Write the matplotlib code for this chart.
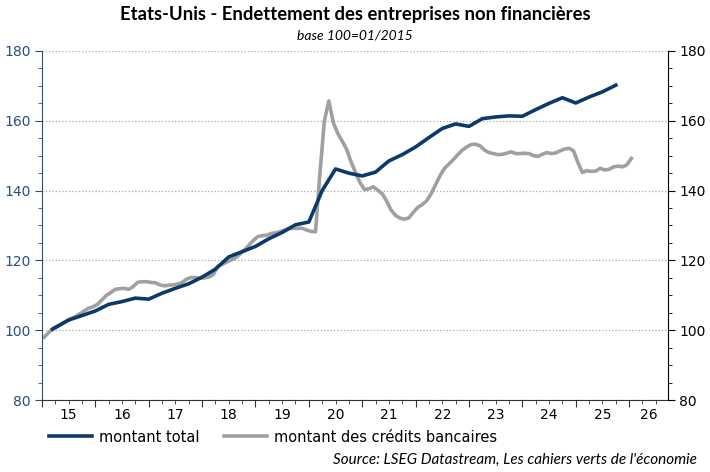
import numpy as np
import matplotlib
matplotlib.use("Agg")
import matplotlib.pyplot as plt
from matplotlib.ticker import MultipleLocator

# quarterly total debt (base 100 = 01/2015), quarter-end points from Q1 2015
total_start = 2015.2
total = [100.3, 102.9, 104.2, 105.5, 107.4, 108.2, 109.2, 108.9, 110.6, 112.0,
         113.3, 115.2, 117.5, 121.0, 122.5, 124.0, 126.2, 128.0, 130.2, 131.0,
         140.0, 146.2, 145.0, 144.2, 145.3, 148.5, 150.3, 152.5, 155.2, 157.8,
         159.1, 158.4, 160.6, 161.1, 161.4, 161.3, 163.2, 165.0, 166.6, 165.1,
         166.8, 168.3, 170.2]

# monthly bank credit, from 01/2015
credit_start = 2015 + 0.5 / 12
credit = [98.0, 99.3, 100.5, 101.2, 101.9, 102.6, 103.3, 103.9, 104.7, 105.5,
          106.3, 106.7, 107.4, 108.7, 110.0, 110.8, 111.7, 111.9, 112.0, 111.7,
          112.5, 113.7, 113.9, 113.9, 113.7, 113.6, 113.0, 112.7, 112.9, 113.0,
          113.2, 113.7, 114.6, 115.1, 115.1, 114.9, 115.0, 115.2, 115.9, 118.3,
          118.9, 119.5, 120.1, 120.7, 121.8, 122.9, 124.3, 125.7, 126.8, 127.1,
          127.2, 127.7, 127.9, 128.2, 128.7, 129.1, 129.2, 129.2, 129.2, 128.7,
          128.3, 128.2, 145.0, 160.0, 165.7, 159.5, 156.4, 154.2, 151.8, 148.2,
          145.2, 142.3, 140.3, 140.5, 141.1, 140.1, 139.1, 137.0, 134.4, 132.9,
          132.1, 131.8, 132.2, 133.8, 135.2, 136.0, 137.1, 139.1, 141.7, 144.3,
          146.4, 147.6, 148.9, 150.3, 151.6, 152.5, 153.2, 153.3, 152.8, 151.6,
          150.9, 150.6, 150.3, 150.4, 150.7, 151.1, 150.6, 150.6, 150.7, 150.6,
          150.0, 149.8, 150.4, 150.9, 150.6, 150.8, 151.4, 151.9, 152.1, 151.4,
          148.0, 145.2, 145.7, 145.5, 145.6, 146.4, 145.9, 146.1, 146.8, 147.0,
          146.8, 147.4, 149.2]

years = list(range(2015, 2027))
year_labels = [str(y)[2:] for y in years]

t_total = total_start + 0.25 * np.arange(len(total))
t_total[1:] = 2015.5 + 0.25 * np.arange(len(total) - 1)
t_credit = credit_start + np.arange(len(credit)) / 12

navy = "#0B3A6A"
grey = "#A0A0A0"
axis_blue = "#2A4E7E"

fig = plt.figure(figsize=(7.1, 4.72), dpi=100)
ax = fig.add_axes([0.059, 0.1525, 0.882, 0.7395])

ax.plot(t_total, total, color=navy, lw=2.6, label="montant total", zorder=3)
ax.plot(t_credit, credit, color=grey, lw=2.6, label="montant des crédits bancaires", zorder=2)

xmax = 2026.73
ax.set_xlim(2015, xmax)
ax.set_ylim(80, 180)

# y axis
ax.yaxis.set_major_locator(MultipleLocator(20))
ax.yaxis.set_minor_locator(MultipleLocator(5))
ax.grid(axis="y", which="major", linestyle=":", color="#A8A8A8", lw=0.9)
ax.tick_params(axis="y", which="major", length=5, color=axis_blue, labelcolor=axis_blue,
               labelsize=10, pad=3)
ax.tick_params(axis="y", which="minor", length=3, color=axis_blue)
ax.spines["left"].set_color(axis_blue)
ax.spines["top"].set_visible(False)
ax.spines["right"].set_visible(False)

# x axis: year boundaries + quarters, labels at mid-year
ax.set_xticks(years)
ax.set_xticklabels([])
ax.xaxis.set_minor_locator(MultipleLocator(0.25))
ax.tick_params(axis="x", which="major", length=5, color="#333333")
ax.tick_params(axis="x", which="minor", length=3, color="#333333")
ax.spines["bottom"].set_color("#333333")

label_pos = [y + 0.5 for y in years[:-1]] + [(years[-1] + xmax) / 2]
sec = ax.secondary_xaxis("bottom")
sec.set_xticks(label_pos, year_labels)
sec.tick_params(length=0, labelsize=10, pad=6)
sec.spines["bottom"].set_visible(False)

# right axis
ax2 = ax.twinx()
ax2.set_ylim(80, 180)
ax2.yaxis.set_major_locator(MultipleLocator(20))
ax2.yaxis.set_minor_locator(MultipleLocator(5))
ax2.tick_params(axis="y", which="major", length=5, labelsize=10, pad=3)
ax2.tick_params(axis="y", which="minor", length=3)
ax2.spines["top"].set_visible(False)
ax2.spines["left"].set_visible(False)
ax2.spines["bottom"].set_visible(False)

fig.text(0.5, 0.97, "Etats-Unis - Endettement des entreprises non financières",
         ha="center", va="center", fontsize=13.3, fontweight="bold", family="Lato")
fig.text(0.5, 0.925, "base 100=01/2015", ha="center", va="center",
         fontsize=10, style="italic", family="Lato")
fig.text(0.982, 0.025, "Source: LSEG Datastream, Les cahiers verts de l'économie",
         ha="right", va="center", fontsize=11, style="italic", family="Lato")

fig.legend(loc="center left", bbox_to_anchor=(0.051, 0.074), ncol=2, frameon=False,
           fontsize=10.5, handlelength=2.9, columnspacing=1.7, handletextpad=0.5)

fig.savefig("out.png", dpi=100)
